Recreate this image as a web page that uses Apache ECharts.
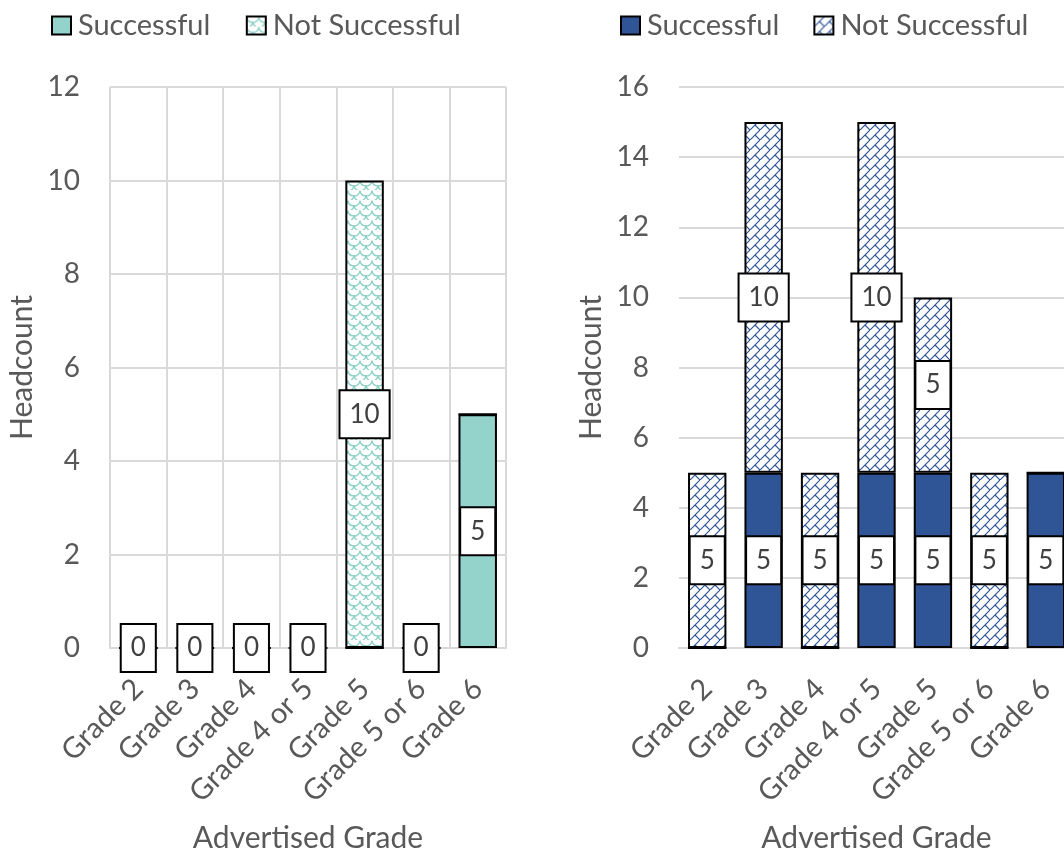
<!DOCTYPE html>
<html><head><meta charset="utf-8">
<script src="https://cdn.jsdelivr.net/npm/echarts@6/dist/echarts.min.js"></script>
<style>html,body{margin:0;padding:0;background:#fff}#c{width:1064px;height:850px}</style>
</head><body><div id="c"></div><script>
const categories = ['Grade 2','Grade 3','Grade 4','Grade 4 or 5','Grade 5','Grade 5 or 6','Grade 6'];
const leftSuccessful = [0,0,0,0,0,0,5];
const leftNotSuccessful = [0,0,0,0,10,0,0];
const rightSuccessful = [0,5,0,5,5,0,5];
const rightNotSuccessful = [5,10,5,10,5,5,0];
const leftAxis = {min:0, max:12, interval:2};
const rightAxis = {min:0, max:16, interval:2};
const seriesNames = ['Successful','Not Successful'];

const FONT = 'Lato';
const TXT = '#595959';

function tealPattern(){
  const c=document.createElement('canvas'); c.width=12; c.height=10;
  const g=c.getContext('2d'); g.fillStyle='#fff'; g.fillRect(0,0,12,10);
  g.strokeStyle='#8ed1c7'; g.lineWidth=1.3;
  g.beginPath(); g.arc(6,0,6,0.1,Math.PI-0.1); g.stroke();
  g.beginPath(); g.arc(0,5,6,0,Math.PI/2); g.stroke();
  g.beginPath(); g.arc(12,5,6,Math.PI/2,Math.PI); g.stroke();
  return c;
}
function navyPattern(){
  const c=document.createElement('canvas'); c.width=10; c.height=10;
  const g=c.getContext('2d'); g.fillStyle='#fff'; g.fillRect(0,0,10,10);
  g.strokeStyle='#2f5597'; g.lineWidth=1.2;
  g.beginPath(); g.moveTo(-1,11); g.lineTo(11,-1); g.stroke();
  g.beginPath(); g.moveTo(5,5); g.lineTo(10,10); g.stroke();
  return c;
}

const labelStyle = {
  position:'inside', backgroundColor:'#fff', borderColor:'#000', borderWidth:2,
  padding:[8,9], fontSize:26, lineHeight:30, color:'#404040', fontFamily:FONT
};

function items(vals, other, isNot){
  return vals.map((v,i)=>({
    value:v,
    label:{show: v>0 || (isNot && other[i]===0)}
  }));
}

function barSeries(name, vals, other, isNot, color, idx){
  return {
    type:'bar', name, stack:'s'+idx, xAxisIndex:idx, yAxisIndex:idx,
    barWidth:'68%',
    data: items(vals, other, isNot),
    itemStyle:{color, borderColor:'#000', borderWidth:2},
    label: Object.assign({}, labelStyle, {formatter:'{c}'}),
    emphasis:{disabled:true}
  };
}

const teal = '#93d3cb', navy = '#2f5597';
const tealPat = {image: tealPattern(), repeat:'repeat'};
const navyPat = {image: navyPattern(), repeat:'repeat'};

function xAx(idx, vgrid){
  return {
    type:'category', gridIndex:idx, data:categories,
    axisTick:{show:false},
    axisLine:{lineStyle:{color:'#d9d9d9', width:2}},
    splitLine:{show:vgrid, lineStyle:{color:'#d9d9d9', width:2}},
    axisLabel:{rotate:45, fontSize:29, color:TXT, fontFamily:FONT, margin:36, interval:0},
    name:'Advertised Grade', nameLocation:'middle', nameGap:175,
    nameTextStyle:{fontSize:30, color:TXT, fontFamily:FONT}
  };
}
function yAx(idx, ax){
  return {
    type:'value', gridIndex:idx, min:ax.min, max:ax.max, interval:ax.interval,
    axisLine:{show:false}, axisTick:{show:false},
    splitLine:{lineStyle:{color:'#d9d9d9', width:2}},
    axisLabel:{fontSize:28, color:TXT, fontFamily:FONT, margin:30},
    name:'Headcount', nameLocation:'middle', nameGap:73,
    nameTextStyle:{fontSize:30, color:TXT, fontFamily:FONT}
  };
}

const legendText = {fontSize:29, color:TXT, fontFamily:FONT, padding:[0,0,0,2]};
const chart = echarts.init(document.getElementById('c'), null, {renderer:'canvas'});
chart.setOption({
  animation:false,
  backgroundColor:'#fff',
  legend:[
    {left:46, top:6, itemWidth:19, itemHeight:18, itemGap:28, icon:'rect',
     data:[{name:seriesNames[0]+' '}, {name:seriesNames[1]+' '}],
     textStyle:legendText},
    {left:615, top:6, itemWidth:19, itemHeight:18, itemGap:34, icon:'rect',
     data:[seriesNames[0], seriesNames[1]],
     textStyle:legendText}
  ],
  grid:[
    {left:110, top:87, width:396, height:561, outerBoundsMode:'none', containLabel:false},
    {left:679, top:87, width:395, height:561, outerBoundsMode:'none', containLabel:false}
  ],
  xAxis:[xAx(0,true), xAx(1,false)],
  yAxis:[yAx(0,leftAxis), yAx(1,rightAxis)],
  series:[
    barSeries(seriesNames[0]+' ', leftSuccessful, leftNotSuccessful, false, teal, 0),
    barSeries(seriesNames[1]+' ', leftNotSuccessful, leftSuccessful, true, tealPat, 0),
    barSeries(seriesNames[0], rightSuccessful, rightNotSuccessful, false, navy, 1),
    barSeries(seriesNames[1], rightNotSuccessful, rightSuccessful, true, navyPat, 1)
  ]
});
</script></body></html>
